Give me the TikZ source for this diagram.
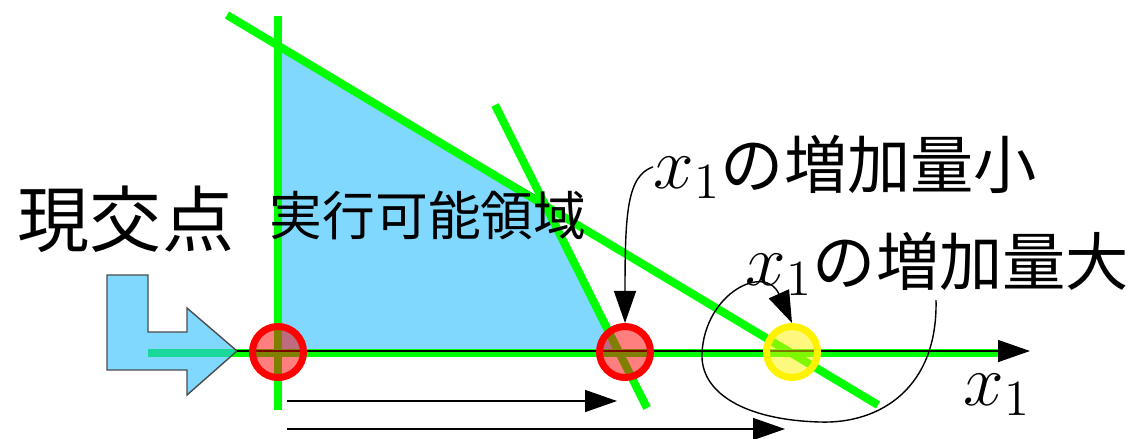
\documentclass[tikz,border=0pt]{standalone}
\usepackage{fontspec}
\newfontfamily\jpfont{Noto Sans CJK JP}
\usetikzlibrary{arrows.meta}

\definecolor{cgreen}{RGB}{0,255,0}
\definecolor{regblue}{RGB}{128,216,255}
\definecolor{ptrblue}{RGB}{43,190,255}

\begin{document}
\begin{tikzpicture}[
    >={Triangle[length=3.2mm, width=2.2mm]},
    cline/.style  = {draw=cgreen, line width=2.3pt},
    stp/.style    = {->, thin},
    hit/.style    = {circle, minimum size=5.1mm, inner sep=0pt,
                     line width=2pt, fill opacity=0.5},
    jp/.style     = {font=\jpfont\fontsize{18}{18}\selectfont, inner sep=0pt},
    mx/.style     = {font=\fontsize{22}{22}\selectfont}
]
\useasboundingbox (0,0) rectangle (11.35,4.38);

% feasible region
\fill[regblue, draw=black, thin] (2.81,3.88) -- (5.43,2.38) -- (6.20,0.87)
    -- (2.81,0.87) -- cycle;

% constraint lines and x1 axis
\draw[cline] (2.78,4.22) -- (2.78,0.28);
\draw[cline] (2.27,4.23) -- (8.78,0.33);
\draw[cline] (4.95,3.33) -- (6.47,0.30);
\draw[cline] (1.48,0.85) -- (10.00,0.85);

% pointer to the current vertex
\coordinate (tip) at (2.37,0.87);
\filldraw[ptrblue, fill opacity=0.6, draw=black!70, thin]
    (1.07,1.63) -- (1.48,1.63) -- (1.48,1.06) -- (1.87,1.06) -- (1.87,1.30)
    -- (tip) -- (1.87,0.43) -- (1.87,0.68) -- (1.07,0.68) -- cycle;
\draw[->, thin] (tip) -- (10.30,0.87);

% candidate points
\node[hit, draw=red, fill=red]       (cur)   at (2.78,0.86) {};
\node[hit, draw=red, fill=red]       (small) at (6.25,0.86) {};
\node[hit, draw=yellow, fill=yellow] (large) at (7.92,0.86) {};

% labels
\node[jp, font=\jpfont\fontsize{20.5}{20.5}\selectfont] (now) at (1.26,2.19) {現交点};
\node[jp, font=\jpfont\fontsize{15}{15}\selectfont] (feas) at (4.28,2.22) {実行可能領域};
\node[jp, anchor=base west] (lsmall) at (6.53,2.50) {{\fontsize{22}{22}\selectfont$x_1$}の増加量小};
\node[jp, anchor=base west] (llarge) at (7.45,1.53) {{\fontsize{22}{22}\selectfont$x_1$}の増加量大};
\node[mx, inner sep=0pt, anchor=base west] (xlab) at (9.63,0.33) {$x_1$};

% where each choice lands
\draw[->, thin] (lsmall.west) .. controls (6.27,2.62) and (6.25,2.25) .. (small.north);
\coordinate (loop) at (9.36,1.38);
\draw[->, thin] (loop) .. controls (9.38,0.50) and (8.80,0.14) .. (8.20,0.16)
    .. controls (7.45,0.18) and (7.00,0.45) .. (7.02,0.85)
    .. controls (7.05,1.45) and (7.65,1.75) .. (large.north);

% step lengths along x1
\foreach \n/\y/\xe in {a/0.37/6.17, b/0.09/7.85} {
    \coordinate (\n0) at (2.87,\y);
    \coordinate (\n1) at (\xe,\y);
    \draw[stp] (\n0) -- (\n1);
}

\end{tikzpicture}
\end{document}
